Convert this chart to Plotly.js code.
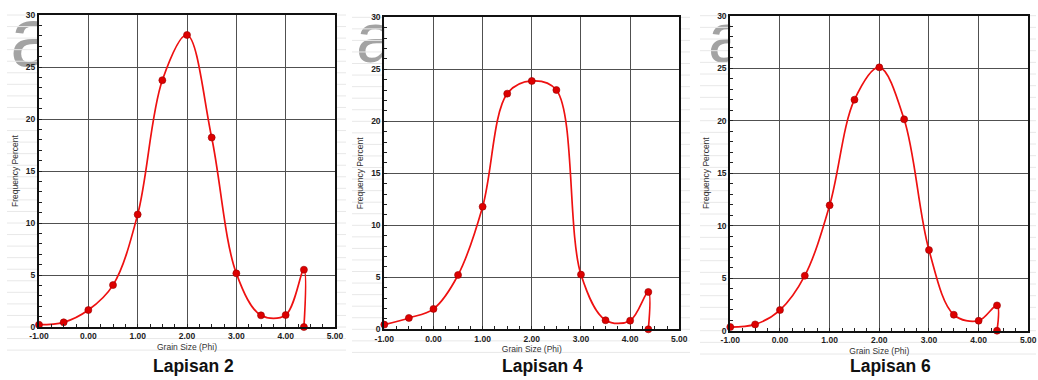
<!DOCTYPE html>
<html>
<head>
<meta charset="utf-8">
<script src="https://cdn.plot.ly/plotly-3.0.1.min.js"></script>
<style>
  html, body { margin: 0; padding: 0; background: #ffffff; }
  #wrap { position: relative; width: 1038px; height: 380px; overflow: hidden; }
  .wm { position: absolute; font-family: "Liberation Sans", Arial, sans-serif; color: #a3a3a3; line-height: 1; z-index: 0; }
  #chart { position: absolute; left: 0; top: 0; width: 1038px; height: 380px; z-index: 1; }
</style>
</head>
<body>
<div id="wrap">
  <div class="wm" style="left:10px; top:-5px; font-size:84px;">a</div>
  <div class="wm" style="left:356px; top:2px; font-size:71px;">a</div>
  <div class="wm" style="left:708px; top:2px; font-size:71px;">a</div>
  <div id="chart"></div>
</div>
<script>
// ---- data ----
const phi = [-1, -0.5, 0, 0.5, 1, 1.5, 2, 2.5, 3, 3.5, 4, 4.37, 4.37];
const lapisan2 = [0.22, 0.45, 1.63, 4.03, 10.82, 23.73, 28.08, 18.22, 5.16, 1.12, 1.15, 5.51, 0];
const lapisan4 = [0.45, 1.09, 1.96, 5.22, 11.79, 22.66, 23.88, 23.01, 5.26, 0.87, 0.83, 3.59, 0];
const lapisan6 = [0.35, 0.60, 1.97, 5.24, 11.94, 22.00, 25.08, 20.13, 7.68, 1.52, 0.95, 2.41, 0];
const panelTitles = ['Lapisan 2', 'Lapisan 4', 'Lapisan 6'];
const xTickVals = [-1, 0, 1, 2, 3, 4, 5];
const xTickText = ['-1.00', '0.00', '1.00', '2.00', '3.00', '4.00', '5.00'];
const yTickVals = [0, 5, 10, 15, 20, 25, 30];
const xTitle = 'Grain Size (Phi)';
const yTitle = 'Frequency Percent';

// ---- layout geometry (pixels) ----
const W = 1038, H = 380;
const panels = [
  {l: 39,    r: 335,    t: 15,   b: 327,   bgL: 7,   bgR: 346,  tx: 193},
  {l: 384.3, r: 679.3,  t: 17.3, b: 329.3, bgL: 352, bgR: 690,  tx: 542.5},
  {l: 730.3, r: 1028.3, t: 15.7, b: 330.7, bgL: 700, bgR: 1036, tx: 890}
];
const series = [lapisan2, lapisan4, lapisan6];
const px = x => x / W;
const py = y => 1 - y / H;

const font = 'Liberation Sans, Arial, sans-serif';
const traces = [];
const layout = {
  width: W, height: H,
  margin: {l: 0, r: 0, t: 0, b: 0},
  paper_bgcolor: 'rgba(0,0,0,0)',
  plot_bgcolor: '#ffffff',
  showlegend: false,
  font: {family: font, color: '#222'},
  shapes: [],
  annotations: []
};

panels.forEach((p, i) => {
  const sfx = i === 0 ? '' : String(i + 1);
  traces.push({
    type: 'scatter', mode: 'lines+markers',
    x: phi, y: series[i],
    xaxis: 'x' + sfx, yaxis: 'y' + sfx,
    line: {color: '#ee1111', width: 1.7, shape: 'spline', smoothing: 1},
    marker: {color: '#dd0000', size: 7, line: {color: '#990000', width: 0.6}},
    cliponaxis: false,
    hoverinfo: 'x+y'
  });
  layout['xaxis' + sfx] = {
    domain: [px(p.l), px(p.r)],
    anchor: 'y' + sfx,
    range: [-1, 5],
    tickmode: 'array', tickvals: xTickVals, ticktext: xTickText,
    ticks: 'inside', ticklen: 0,
    tickfont: {size: 8.5, family: font, color: '#222', weight: 'bold'},
    showgrid: true, gridcolor: '#505050', gridwidth: 1,
    zeroline: false,
    showline: true, linecolor: '#111', linewidth: 2, mirror: true,
    minor: {dtick: 0.25, ticks: 'inside', ticklen: 3, tickcolor: '#222', tickwidth: 1, showgrid: false},
    title: {text: xTitle, font: {size: 8.5, family: font, color: '#333'}, standoff: 4},
    fixedrange: true
  };
  layout['yaxis' + sfx] = {
    domain: [py(p.b), py(p.t)],
    anchor: 'x' + sfx,
    range: [0, 30],
    tickmode: 'array', tickvals: yTickVals,
    ticks: 'inside', ticklen: 0,
    tickfont: {size: 8.5, family: font, color: '#222', weight: 'bold'},
    showgrid: true, gridcolor: '#505050', gridwidth: 1,
    zeroline: false,
    showline: true, linecolor: '#111', linewidth: 2, mirror: true,
    minor: {dtick: 1, ticks: 'inside', ticklen: 3, tickcolor: '#222', tickwidth: 1, showgrid: false},
    title: {text: yTitle, font: {size: 8.5, family: font, color: '#333'}, standoff: 6},
    fixedrange: true
  };
  layout.annotations.push({
    xref: 'paper', yref: 'paper', x: px(p.tx), y: py(366),
    xanchor: 'center', yanchor: 'middle', showarrow: false,
    text: '<b>' + panelTitles[i] + '</b>',
    font: {size: 17.5, family: font, color: '#111'}
  });
  // faint spreadsheet cell lines in the margins
  const step = (p.b - p.t) / 27;
  for (let k = 0; k <= 29; k++) {
    const y = p.t + k * step;
    if (y > 356) break;
    const inside = y >= p.t - 1 && y <= p.b + 1;
    const segs = inside ? [[p.bgL, p.l], [p.r, p.bgR]] : [[p.bgL, p.bgR]];
    segs.forEach(s => layout.shapes.push({
      type: 'line', xref: 'paper', yref: 'paper', layer: 'below',
      x0: px(s[0]), x1: px(s[1]), y0: py(y), y1: py(y),
      line: {color: '#e8e8e8', width: 1}
    }));
  }
});

Plotly.newPlot('chart', traces, layout, {displayModeBar: false, staticPlot: true});
</script>
</body>
</html>
